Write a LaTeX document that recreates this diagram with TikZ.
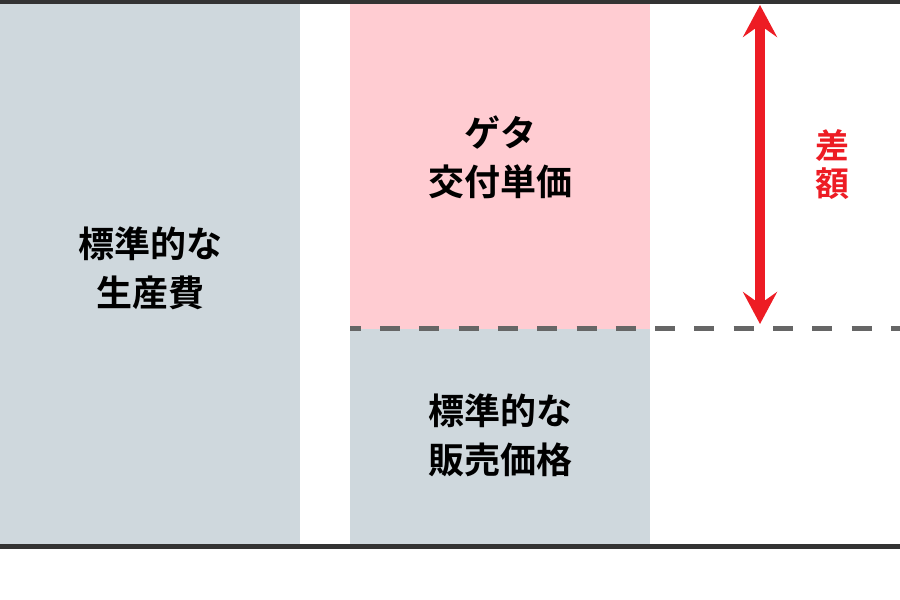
\documentclass[tikz,border=0pt]{standalone}
\usepackage{fontspec}
\newfontfamily\jpfont{Noto Sans CJK JP}[BoldFont={Noto Sans CJK JP Bold}]
\usetikzlibrary{arrows.meta,positioning}

\definecolor{grisbloque}{HTML}{CFD8DD}
\definecolor{rosabloque}{HTML}{FFCCD2}
\definecolor{rojo}{HTML}{ED1C24}
\definecolor{oscuro}{HTML}{333333}
\definecolor{guion}{HTML}{666666}

\begin{document}
\begin{tikzpicture}[
      x=1pt, y=-1pt,
      font=\jpfont\bfseries
    ]

    \tikzstyle{etiqueta} = [
        align=center,
        font=\jpfont\bfseries\fontsize{36}{49}\selectfont
    ]

    \tikzstyle{diferencia} = [
        align=center,
        text=rojo,
        font=\jpfont\bfseries\fontsize{34}{38}\selectfont
    ]

    \tikzstyle{linea} = [
        draw=oscuro,
        line width=5pt
    ]

    \tikzstyle{flecha} = [
        draw=rojo,
        line width=10pt,
        {Stealth[length=32pt,width=34pt,inset=12pt]}-{Stealth[length=32pt,width=34pt,inset=12pt]}
    ]

    \useasboundingbox (0,0) rectangle (900,600);

    % bloques
    \fill[grisbloque] (0,0) rectangle (300,546);
    \fill[rosabloque] (350,0) rectangle (650,328.5);
    \fill[grisbloque] (350,328.5) rectangle (650,546);

    \node [etiqueta] (coste)  at (150,268) {標準的な\\生産費};
    \node [etiqueta] (geta)   at (500,157) {ゲタ\\交付単価};
    \node [etiqueta] (precio) at (500,435) {標準的な\\販売価格};
    \node [diferencia] (sagaku) at (832,165) {差\\額};

    \coordinate (arriba) at (760,5);
    \coordinate (abajo)  at (760,324);
    \coordinate (nivelA) at (350,328.5);
    \coordinate (nivelB) at (900,328.5);

    \draw[guion, line width=5pt, dash pattern=on 20pt off 19.3pt, dash phase=9.3pt] (nivelA) -- (nivelB);
    \path [flecha] (arriba) -- (abajo);

    \path [linea] (0,1.5) -- (900,1.5);
    \path [linea] (0,546.5) -- (900,546.5);

    \end{tikzpicture}
\end{document}
